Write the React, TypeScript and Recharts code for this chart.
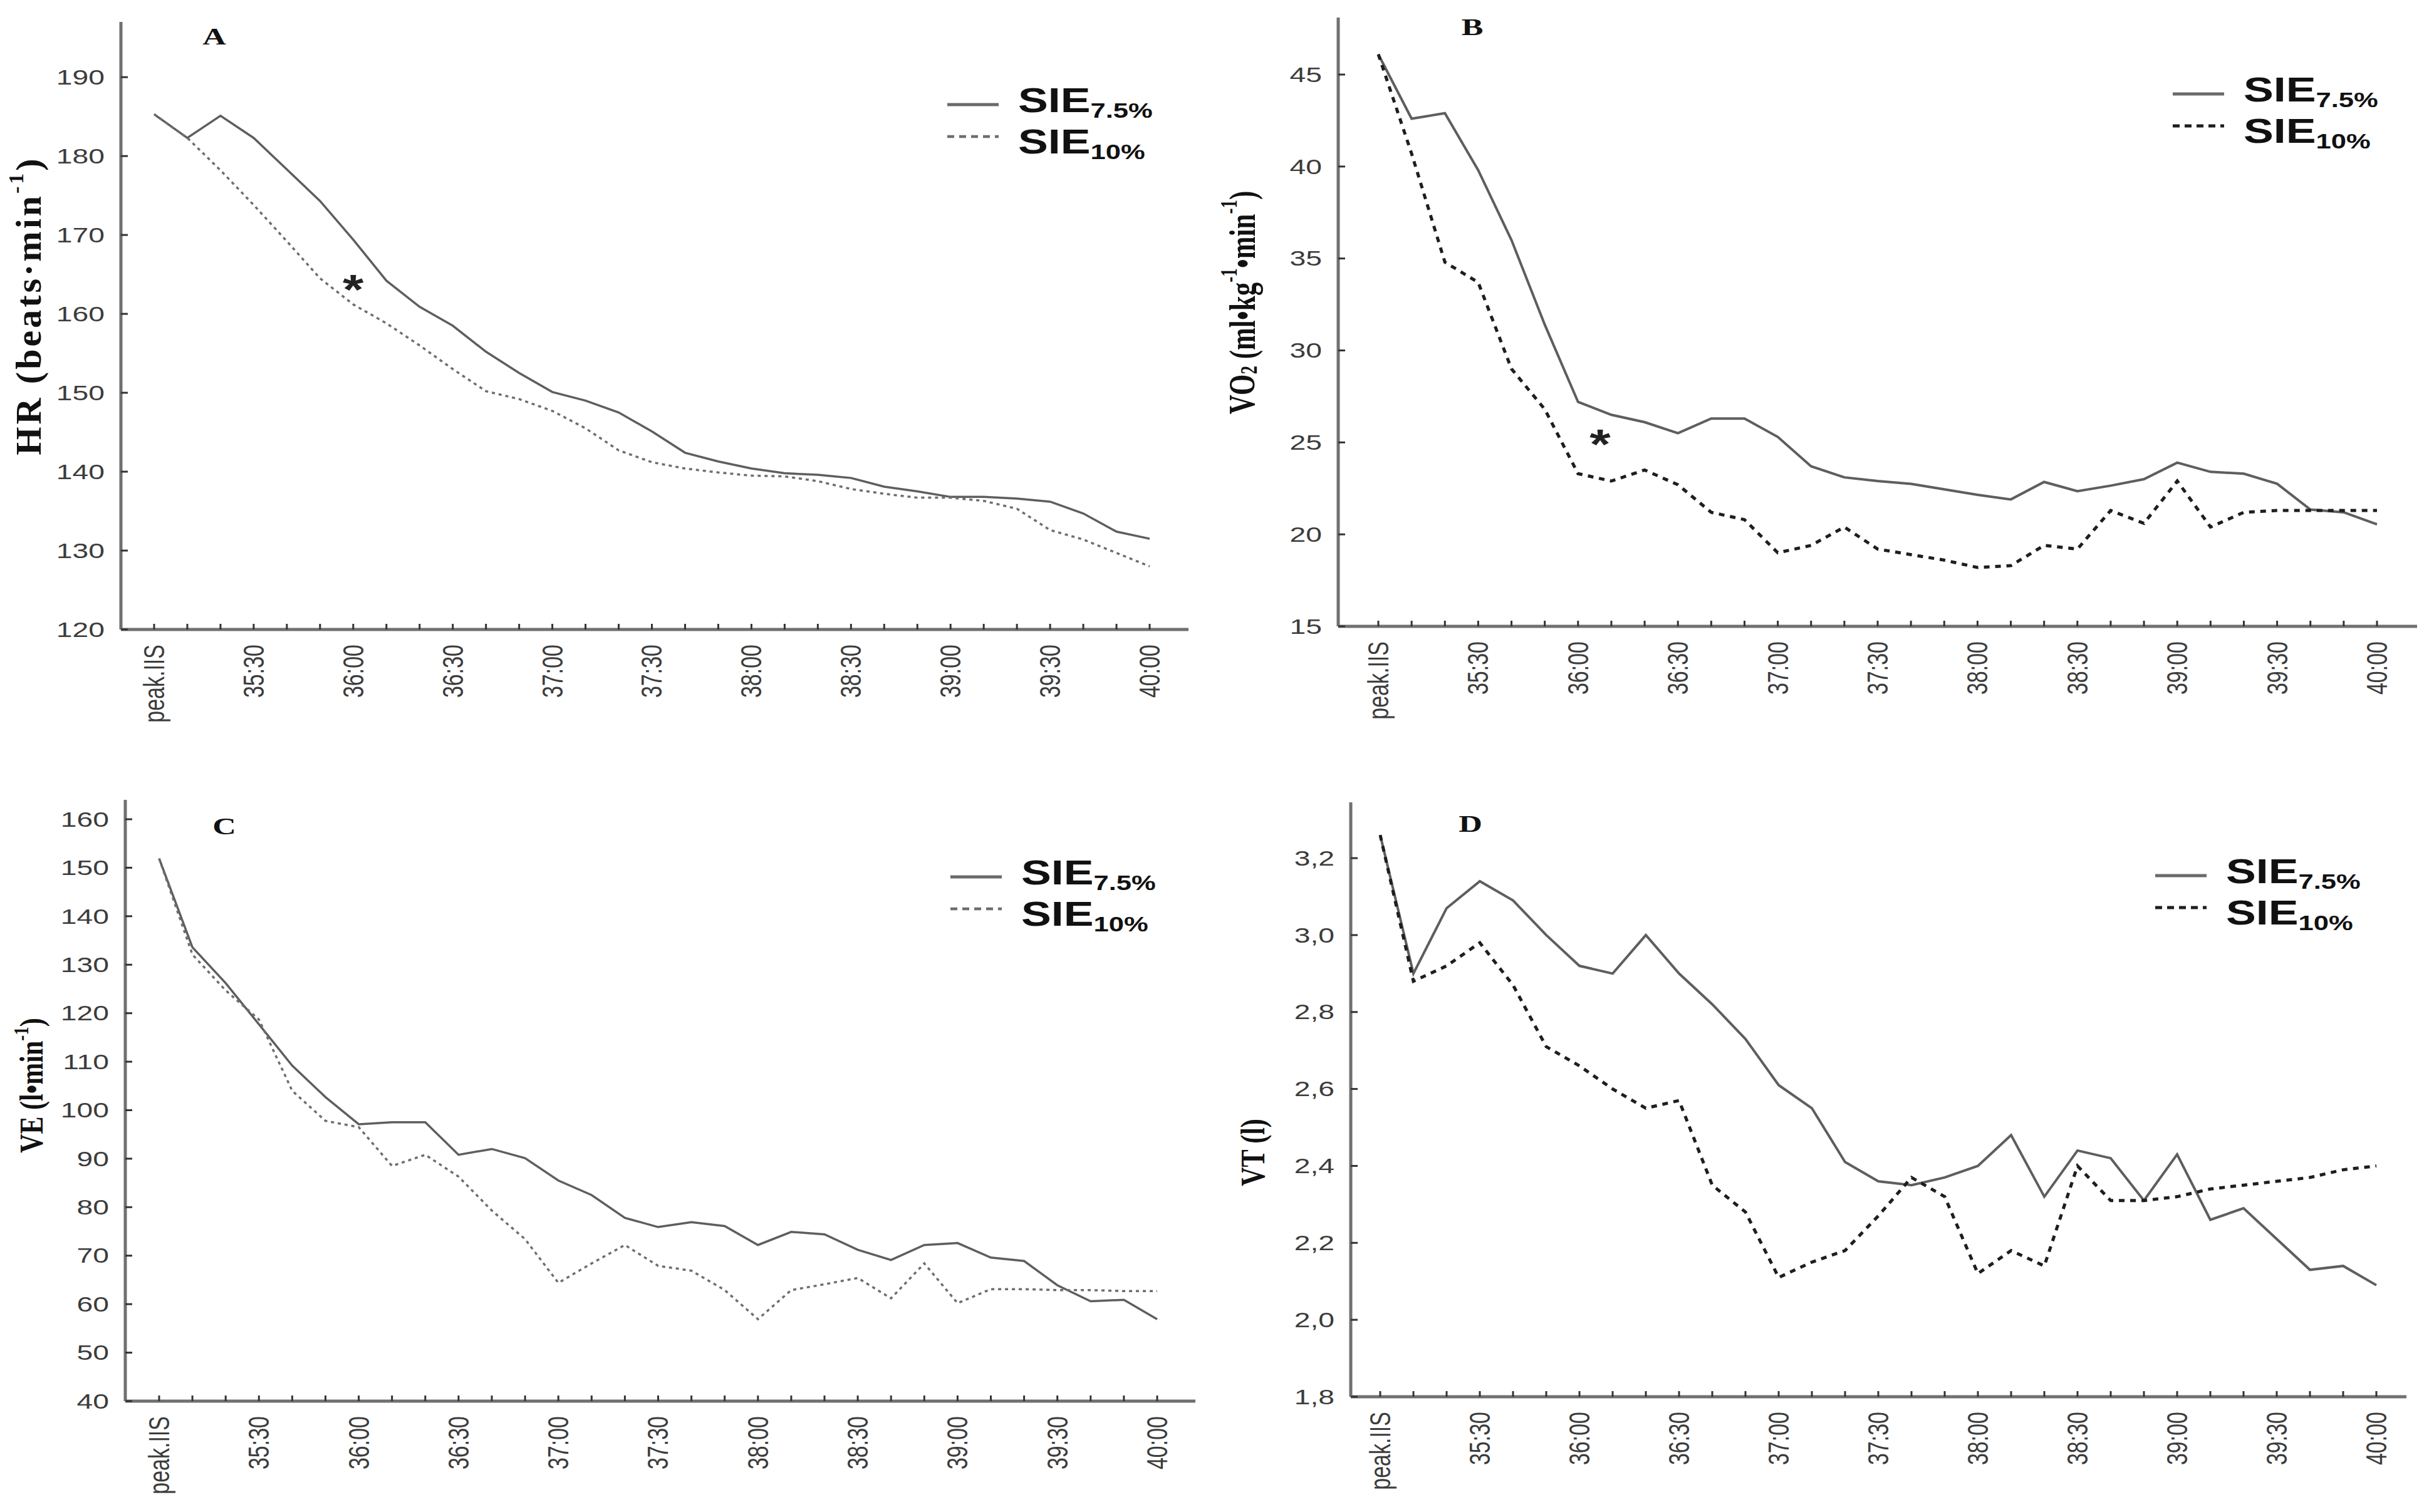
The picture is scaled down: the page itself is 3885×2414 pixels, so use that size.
import React from 'react';
import { LineChart, Line, XAxis, YAxis, Legend, ReferenceDot, Customized } from 'recharts';

// ---------- data ----------
const timeLabels = [
  'peak.IIS', '35:10', '35:20', '35:30', '35:40', '35:50', '36:00', '36:10', '36:20', '36:30',
  '36:40', '36:50', '37:00', '37:10', '37:20', '37:30', '37:40', '37:50', '38:00', '38:10',
  '38:20', '38:30', '38:40', '38:50', '39:00', '39:10', '39:20', '39:30', '39:40', '39:50', '40:00',
];

const hrSIE75 = [185.3, 182.3, 185.1, 182.3, 178.3, 174.3, 169.4, 164.2, 160.9, 158.5, 155.2, 152.5, 150.1, 149.0, 147.5, 145.1, 142.4, 141.3, 140.4, 139.8, 139.6, 139.2, 138.1, 137.5, 136.8, 136.8, 136.6, 136.2, 134.7, 132.4, 131.5];
const hrSIE10 = [185.3, 182.3, 178.2, 173.8, 169.2, 164.5, 161.2, 158.8, 156.0, 153.0, 150.2, 149.2, 147.7, 145.5, 142.7, 141.2, 140.4, 139.9, 139.5, 139.4, 138.8, 137.8, 137.2, 136.7, 136.7, 136.3, 135.3, 132.6, 131.4, 129.7, 128.0];

const vo2SIE75 = [46.1, 42.6, 42.9, 39.8, 36.0, 31.4, 27.2, 26.5, 26.1, 25.5, 26.3, 26.3, 25.3, 23.7, 23.1, 22.9, 22.75, 22.45, 22.15, 21.9, 22.85, 22.35, 22.65, 23.0, 23.9, 23.4, 23.3, 22.75, 21.35, 21.2, 20.55];
const vo2SIE10 = [46.1, 40.7, 34.8, 33.7, 29.0, 26.8, 23.3, 22.9, 23.5, 22.7, 21.2, 20.8, 19.0, 19.4, 20.4, 19.2, 18.9, 18.6, 18.2, 18.3, 19.4, 19.2, 21.3, 20.6, 22.9, 20.4, 21.2, 21.3, 21.3, 21.3, 21.3];

const veSIE75 = [151.9, 133.6, 126.2, 117.7, 109.2, 102.7, 97.1, 97.5, 97.5, 90.8, 92.0, 90.1, 85.5, 82.5, 77.8, 75.9, 76.9, 76.1, 72.2, 74.9, 74.4, 71.2, 69.1, 72.2, 72.6, 69.6, 68.9, 63.9, 60.6, 60.9, 56.9];
const veSIE10 = [151.9, 132.1, 124.7, 118.7, 104.0, 97.8, 96.5, 88.5, 90.8, 86.3, 79.3, 73.4, 64.4, 68.4, 72.2, 67.9, 66.9, 62.9, 56.9, 62.9, 64.1, 65.4, 61.2, 68.4, 60.2, 63.1, 63.1, 62.9, 62.9, 62.7, 62.7];

const vtSIE75 = [3.26, 2.9, 3.07, 3.14, 3.09, 3.0, 2.92, 2.9, 3.0, 2.9, 2.82, 2.73, 2.61, 2.55, 2.41, 2.36, 2.35, 2.37, 2.4, 2.48, 2.32, 2.44, 2.42, 2.31, 2.43, 2.26, 2.29, 2.21, 2.13, 2.14, 2.09];
const vtSIE10 = [3.26, 2.88, 2.92, 2.98, 2.87, 2.71, 2.66, 2.6, 2.55, 2.57, 2.35, 2.28, 2.11, 2.15, 2.18, 2.27, 2.37, 2.32, 2.12, 2.18, 2.14, 2.4, 2.31, 2.31, 2.32, 2.34, 2.35, 2.36, 2.37, 2.39, 2.4];

const hrTicks = [120, 130, 140, 150, 160, 170, 180, 190];
const vo2Ticks = [15, 20, 25, 30, 35, 40, 45];
const veTicks = [40, 50, 60, 70, 80, 90, 100, 110, 120, 130, 140, 150, 160];
const vtTicks = [1.8, 2.0, 2.2, 2.4, 2.6, 2.8, 3.0, 3.2];

const seriesNames = ['SIE7.5%', 'SIE10%'];

// ---------- helpers ----------
const SANS = 'Liberation Sans, Arial, Helvetica, sans-serif';
const SERIF = 'Liberation Serif, Times New Roman, serif';
const STRETCH = 1.36;

const buildRows = (a: number[], b: number[]) =>
  timeLabels.map((t, i) => ({ t, s75: a[i], s10: b[i] }));

const XTick = (props: any) => {
  const { x, y, index, payload } = props;
  return (
    <g>
      <line x1={x} y1={y} x2={x} y2={y - 9} stroke="#333" strokeWidth={3} />
      {index % 3 === 0 ? (
        <text
          transform={`translate(${x},${y + 24}) scale(${STRETCH},1) rotate(-90)`}
          textAnchor="end"
          dominantBaseline="central"
          fontFamily={SANS}
          fontSize={34}
          fill="#3c3c3c"
        >
          {payload.value}
        </text>
      ) : null}
    </g>
  );
};

const YTick = (props: any) => {
  const { x, y, payload, fmt } = props;
  const label = fmt ? fmt(payload.value) : String(payload.value);
  return (
    <g>
      <line x1={x} y1={y} x2={x + 11} y2={y} stroke="#333" strokeWidth={3} />
      <text
        transform={`translate(${x - 26},${y}) scale(${STRETCH},1)`}
        textAnchor="end"
        dominantBaseline="central"
        fontFamily={SANS}
        fontSize={34}
        fill="#3c3c3c"
      >
        {label}
      </text>
    </g>
  );
};

const makeLegend = (dashColor: string, dashWidth: number) => (props: any) => {
  const payload = [...(props.payload || [])].sort(
    (a: any, b: any) => seriesNames.indexOf(String(a.value)) - seriesNames.indexOf(String(b.value))
  );
  return (
    <div style={{ position: 'relative', width: 420, height: 132 }}>
      {payload.map((entry: any, i: number) => {
        const name = String(entry.value);
        const base = name.slice(0, 3);
        const sub = name.slice(3);
        const isSolid = name === seriesNames[0];
        const lineTop = i === 0 ? 40 : 91;
        return (
          <React.Fragment key={name}>
            <svg
              width={84}
              height={12}
              style={{ position: 'absolute', left: 0, top: lineTop - 6 }}
            >
              {isSolid ? (
                <line x1={0} y1={6} x2={82} y2={6} stroke="#6a6a6a" strokeWidth={5} />
              ) : (
                <line x1={0} y1={6} x2={82} y2={6} stroke={dashColor} strokeWidth={dashWidth} strokeDasharray="11 8" />
              )}
            </svg>
            <div
              style={{
                position: 'absolute',
                left: 113,
                top: i * 66,
                height: 66,
                lineHeight: '66px',
                whiteSpace: 'nowrap',
                fontFamily: SANS,
                fontWeight: 'bold',
                fontSize: 56,
                color: '#111',
                transform: 'scaleX(1.28)',
                transformOrigin: 'left center',
              }}
            >
              {base}
              <span style={{ fontSize: 34, position: 'relative', top: 9 }}>{sub}</span>
            </div>
          </React.Fragment>
        );
      })}
    </div>
  );
};

const starShape = (dx: number) => (p: any) => (
  <text
    transform={`translate(${p.cx + dx},${p.cy}) scale(1.3,1)`}
    y={37}
    textAnchor="middle"
    fontFamily={SANS}
    fontWeight="bold"
    fontSize={66}
    fill="#222"
  >
    *
  </text>
);

type PanelProps = {
  left: number;
  top: number;
  width: number;
  height: number;
  margin: { top: number; right: number; bottom: number; left: number };
  padL: number;
  padR: number;
  rows: any[];
  domain: [number, number];
  ticks: number[];
  fmt?: (v: number) => string;
  letter: string;
  letterPos: [number, number];
  yLabel: React.ReactNode;
  legendPos: [number, number];
  solidWidth: number;
  dashColor: string;
  dashWidth: number;
  dashArray: string;
  star?: { x: string; y: number; dx: number };
};

const Panel = (p: PanelProps) => (
  <div style={{ position: 'absolute', left: p.left, top: p.top, width: p.width, height: p.height }}>
    <LineChart width={p.width} height={p.height} data={p.rows} margin={p.margin}>
      <XAxis
        dataKey="t"
        type="category"
        interval={0}
        padding={{ left: p.padL, right: p.padR }}
        height={150}
        tickSize={0}
        tickMargin={0}
        tickLine={false}
        axisLine={{ stroke: '#707070', strokeWidth: 5 }}
        tick={(tp: any) => <XTick {...tp} />}
      />
      <YAxis
        type="number"
        domain={p.domain}
        ticks={p.ticks}
        interval={0}
        width={150}
        tickSize={0}
        tickMargin={0}
        tickLine={false}
        allowDataOverflow
        axisLine={{ stroke: '#707070', strokeWidth: 5 }}
        tick={(tp: any) => <YTick {...tp} fmt={p.fmt} />}
      />
      <Line
        type="linear"
        dataKey="s75"
        name={seriesNames[0]}
        stroke="#5e5e5e"
        strokeWidth={p.solidWidth}
        dot={false}
        activeDot={false}
        isAnimationActive={false}
      />
      <Line
        type="linear"
        dataKey="s10"
        name={seriesNames[1]}
        stroke={p.dashColor}
        strokeWidth={p.dashWidth}
        strokeDasharray={p.dashArray}
        dot={false}
        activeDot={false}
        isAnimationActive={false}
      />
      {p.star ? (
        <ReferenceDot x={p.star.x} y={p.star.y} r={0} ifOverflow="visible" shape={starShape(p.star.dx)} />
      ) : null}
      <Legend
        layout="vertical"
        align="center"
        verticalAlign="middle"
        wrapperStyle={{ left: p.legendPos[0], top: p.legendPos[1], width: 420, height: 132 }}
        content={makeLegend(p.dashColor, Math.max(p.dashWidth, 4.5))}
      />
      <Customized
        component={() => (
          <g>
            <text
              transform={`translate(${p.letterPos[0]},${p.letterPos[1]}) scale(1.37,1)`}
              textAnchor="middle"
              fontFamily={SERIF}
              fontWeight="bold"
              fontSize={38}
              fill="#111"
            >
              {p.letter}
            </text>
            {p.yLabel}
          </g>
        )}
      />
    </LineChart>
  </div>
);

const labelA = (
  <text
    transform="translate(45,488) rotate(-90)"
    textAnchor="middle"
    dominantBaseline="central"
    fontFamily={SERIF}
    fontWeight="bold"
    fontSize={58}
    letterSpacing={4}
    fill="#111"
  >
    HR (beats·min<tspan dy={-20} fontSize={34}>-1</tspan>
    <tspan dy={20}>)</tspan>
  </text>
);

const labelB = (
  <text
    transform="translate(42,483) scale(1.37,1) rotate(-90)"
    textAnchor="middle"
    dominantBaseline="central"
    fontFamily={SERIF}
    fontWeight="bold"
    fontSize={43}
    fill="#111"
  >
    VO<tspan dy={8} fontSize={27}>2</tspan>
    <tspan dy={-8}> (ml•kg</tspan>
    <tspan dy={-15} fontSize={27}>-1</tspan>
    <tspan dy={15}>•min</tspan>
    <tspan dy={-15} fontSize={27}>-1</tspan>
    <tspan dy={15}>)</tspan>
  </text>
);

const labelC = (
  <text
    transform="translate(50,533) scale(1.25,1) rotate(-90)"
    textAnchor="middle"
    dominantBaseline="central"
    fontFamily={SERIF}
    fontWeight="bold"
    fontSize={42}
    fill="#111"
  >
    VE (l•min<tspan dy={-13} fontSize={27}>-1</tspan>
    <tspan dy={13}>)</tspan>
  </text>
);

const labelD = (
  <text
    transform="translate(60,640) scale(1.3,1) rotate(-90)"
    textAnchor="middle"
    dominantBaseline="central"
    fontFamily={SERIF}
    fontWeight="bold"
    fontSize={42}
    fill="#111"
  >
    VT (l)
  </text>
);

const commaFmt = (v: number) => v.toFixed(1).replace('.', ',');

export default function App() {
  return (
    <div style={{ position: 'absolute', left: 0, top: 0, width: 3885, height: 2414, background: '#fff', overflow: 'hidden' }}>
      <Panel
        left={0}
        top={0}
        width={1940}
        height={1200}
        margin={{ top: 35, right: 43, bottom: 45, left: 43 }}
        padL={53}
        padR={62}
        rows={buildRows(hrSIE75, hrSIE10)}
        domain={[120, 197]}
        ticks={hrTicks}
        letter="A"
        letterPos={[342, 71]}
        yLabel={labelA}
        legendPos={[1512, 127]}
        solidWidth={3.5}
        dashColor="#6e6e6e"
        dashWidth={3.5}
        dashArray="5 6"
        star={{ x: '36:00', y: 164.2, dx: 0 }}
      />
      <Panel
        left={1940}
        top={0}
        width={1945}
        height={1200}
        margin={{ top: 28, right: 27, bottom: 50, left: 46 }}
        padL={64}
        padR={64}
        rows={buildRows(vo2SIE75, vo2SIE10)}
        domain={[15, 48.1]}
        ticks={vo2Ticks}
        letter="B"
        letterPos={[410, 56]}
        yLabel={labelB}
        legendPos={[1528, 110]}
        solidWidth={4}
        dashColor="#1e1e1e"
        dashWidth={5}
        dashArray="9 9"
        star={{ x: '36:10', y: 25.4, dx: -18 }}
      />
      <Panel
        left={0}
        top={1200}
        width={1940}
        height={1214}
        margin={{ top: 77, right: 32, bottom: 27, left: 50 }}
        padL={54}
        padR={61}
        rows={buildRows(veSIE75, veSIE10)}
        domain={[40, 164]}
        ticks={veTicks}
        letter="C"
        letterPos={[358, 132]}
        yLabel={labelC}
        legendPos={[1517, 160]}
        solidWidth={3.5}
        dashColor="#6e6e6e"
        dashWidth={3.5}
        dashArray="5 6"
      />
      <Panel
        left={1940}
        top={1200}
        width={1945}
        height={1214}
        margin={{ top: 81, right: 44, bottom: 34, left: 66 }}
        padL={47}
        padR={48}
        rows={buildRows(vtSIE75, vtSIE10)}
        domain={[1.8, 3.345]}
        ticks={vtTicks}
        fmt={commaFmt}
        letter="D"
        letterPos={[407, 128]}
        yLabel={labelD}
        legendPos={[1500, 158]}
        solidWidth={4}
        dashColor="#1e1e1e"
        dashWidth={5}
        dashArray="9 9"
      />
    </div>
  );
}
